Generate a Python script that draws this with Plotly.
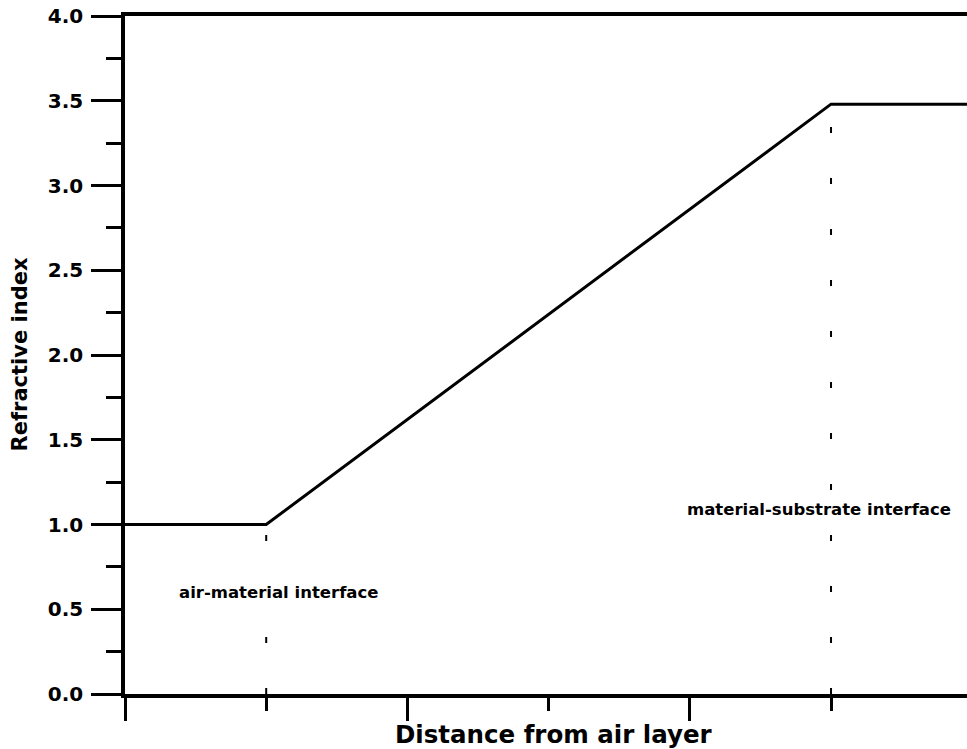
import plotly.graph_objects as go

# Data
distance = [0, 1, 5, 6]
refractive_index = [1.0, 1.0, 3.48, 3.48]

interface_x = [1, 5]
interface_top = [1.0, 3.48]
interface_labels = ["air-material interface", "material-substrate interface"]
label_x = [1.09, 4.915]
label_y = [0.60, 1.09]

FONT = "DejaVu Sans"

fig = go.Figure()

# dashed vertical interface lines (drawn from the axis upward)
for xi, top in zip(interface_x, interface_top):
    fig.add_trace(go.Scatter(
        x=[xi, xi], y=[0, top], mode="lines",
        line=dict(color="black", width=2, dash="6px,45px"),
        showlegend=False, hoverinfo="skip"))

fig.add_trace(go.Scatter(
    x=distance, y=refractive_index, mode="lines",
    line=dict(color="black", width=3),
    showlegend=False, hoverinfo="skip"))

for txt, lx, ly in zip(interface_labels, label_x, label_y):
    fig.add_annotation(x=lx, y=ly, xref="x", yref="y", text=txt,
                       showarrow=False, xanchor="center", yanchor="middle",
                       bgcolor="white",
                       font=dict(family=FONT, size=16.5, color="black", weight="bold"))

# axis titles
fig.add_annotation(x=3.04, y=0, xref="x", yref="paper", yshift=-40,
                   text="Distance from air layer", showarrow=False,
                   xanchor="center", yanchor="middle",
                   font=dict(family=FONT, size=24.5, color="black", weight="bold"))
fig.add_annotation(x=0, y=0.5, xref="paper", yref="paper", xshift=-105.5,
                   text="Refractive index", showarrow=False, textangle=-90,
                   xanchor="center", yanchor="middle",
                   font=dict(family=FONT, size=21, color="black", weight="bold"))

fig.update_layout(
    width=967, height=749,
    margin=dict(l=125, r=0, t=16, b=55),
    paper_bgcolor="white", plot_bgcolor="white",
    showlegend=False,
    xaxis=dict(
        range=[0, 5.963], showgrid=False, zeroline=False,
        showline=True, linecolor="black", linewidth=3.5, mirror=True,
        ticks="outside", ticklen=23, tickwidth=3, tickcolor="black",
        tick0=0, dtick=2, showticklabels=False,
        minor=dict(ticks="outside", ticklen=13, tickwidth=3, tickcolor="black", dtick=1, showgrid=False),
    ),
    yaxis=dict(
        range=[0, 4], showgrid=False, zeroline=False,
        showline=True, linecolor="black", linewidth=3.5,
        ticks="outside", ticklen=30, tickwidth=3, tickcolor="black",
        tick0=0, dtick=0.5, tickformat=".1f",
        ticklabelstandoff=4,
        tickfont=dict(family=FONT, size=20, color="black", weight="bold"),
        minor=dict(ticks="outside", ticklen=15, tickwidth=3, tickcolor="black", dtick=0.25, showgrid=False),
    ),
)

fig.write_html("out.html")
